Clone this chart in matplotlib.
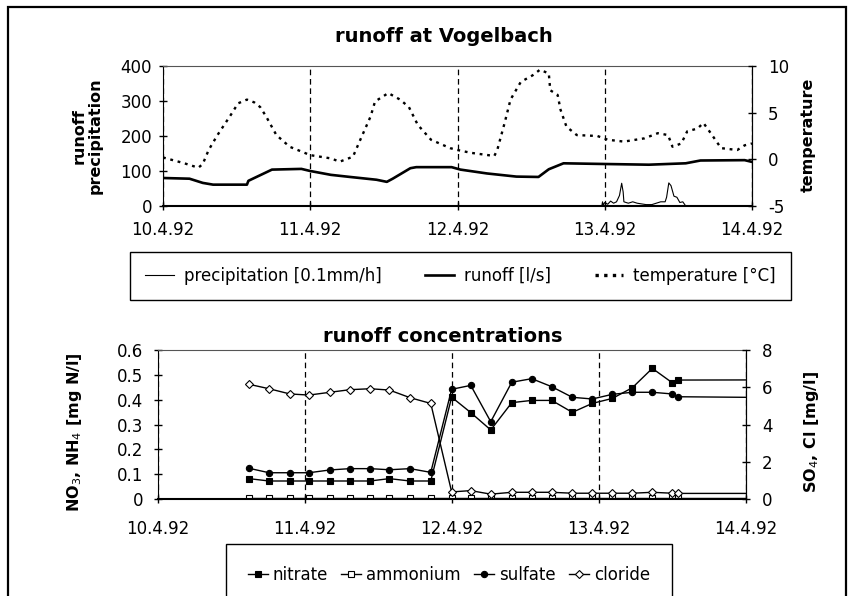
import matplotlib
matplotlib.use("Agg")
import matplotlib.pyplot as plt
from matplotlib.lines import Line2D
from matplotlib.patches import Rectangle
from matplotlib.ticker import FuncFormatter

plt.rcParams["font.family"] = ["DejaVu Sans"]
plt.rcParams["axes.unicode_minus"] = False

# ---- data: x in days after 10.4.92 ----
date_labels = ["10.4.92", "11.4.92", "12.4.92", "13.4.92", "14.4.92"]

runoff_t = [0.0, 0.18, 0.27, 0.34, 0.57, 0.58, 0.66, 0.74, 0.94, 1.0, 1.14, 1.27,
            1.45, 1.52, 1.56, 1.68, 1.72, 1.96, 2.02, 2.2, 2.4, 2.55, 2.62, 2.72,
            3.0, 3.3, 3.55, 3.65, 3.95, 4.0]
runoff = [80, 78, 66, 61, 61, 72, 88, 104, 106, 100, 89, 83,
          75, 69, 78, 108, 111, 111, 104, 93, 84, 83, 105, 122,
          120, 118, 122, 130, 131, 126]

temp_t = [0.0, 0.07, 0.14, 0.24, 0.27, 0.31, 0.37, 0.46, 0.51, 0.57, 0.62, 0.66,
          0.70, 0.77, 0.86, 1.0, 1.14, 1.2, 1.29, 1.34, 1.41, 1.44, 1.53, 1.61,
          1.67, 1.73, 1.82, 1.95, 2.0, 2.09, 2.25, 2.27, 2.32, 2.36, 2.43, 2.51,
          2.56, 2.62, 2.63, 2.68, 2.70, 2.74, 2.81, 2.95, 3.02, 3.13, 3.27, 3.36,
          3.43, 3.46, 3.52, 3.56, 3.63, 3.67, 3.72, 3.79, 3.90, 3.95, 4.0]
temp = [0.2, -0.1, -0.4, -0.9, -0.5, 1.0, 2.6, 4.75, 6.0, 6.4, 6.1, 5.6,
        4.6, 2.6, 1.35, 0.45, 0.1, -0.25, 0.28, 2.1, 4.6, 6.2, 7.1, 6.4,
        5.6, 3.7, 2.1, 1.2, 1.0, 0.7, 0.36, 1.0, 3.9, 6.4, 8.3, 9.0,
        9.6, 9.2, 7.4, 6.9, 5.3, 3.5, 2.6, 2.5, 2.1, 1.9, 2.25, 2.8,
        2.6, 1.35, 1.7, 3.0, 3.3, 3.9, 2.8, 1.2, 1.0, 1.5, 1.7]

precip_t = [2.98, 2.985, 2.99, 3.0, 3.02, 3.04, 3.06, 3.08, 3.10, 3.115, 3.125,
            3.13, 3.16, 3.19, 3.22, 3.25, 3.28, 3.32, 3.35, 3.38, 3.41, 3.42,
            3.435, 3.45, 3.47, 3.49, 3.51, 3.53, 3.55]
precip = [0, 12, 3, 10, 5, 14, 8, 12, 30, 65, 40,
          12, 8, 12, 8, 6, 4, 4, 8, 12, 12, 25,
          66, 58, 28, 25, 10, 12, 0]

# concentration samples (last value lies beyond 14.4.92)
conc_t = [0.622, 0.759, 0.901, 1.031, 1.173, 1.310, 1.446, 1.577, 1.718, 1.859,
          2.001, 2.131, 2.267, 2.410, 2.546, 2.682, 2.822, 2.958, 3.094, 3.230,
          3.366, 3.502, 3.543, 4.6]
nitrate = [0.082, 0.0725, 0.0725, 0.0725, 0.0725, 0.0725, 0.0725, 0.082, 0.0725, 0.0725,
           0.41, 0.348, 0.278, 0.388, 0.397, 0.397, 0.349, 0.385, 0.405, 0.448,
           0.526, 0.468, 0.479, 0.48]
ammonium = [0.003] * 24
sulfate = [1.65, 1.41, 1.41, 1.41, 1.56, 1.63, 1.63, 1.57, 1.63, 1.43,
           5.89, 6.1, 4.15, 6.27, 6.46, 6.03, 5.46, 5.37, 5.62, 5.73,
           5.73, 5.64, 5.49, 5.42]
cloride = [6.16, 5.92, 5.64, 5.58, 5.73, 5.87, 5.92, 5.85, 5.44, 5.13,
           0.38, 0.45, 0.26, 0.36, 0.36, 0.36, 0.31, 0.31, 0.31, 0.31,
           0.36, 0.31, 0.30, 0.30]

W, H = 855, 596


def fx(px):
    return px / W


def fy(py):
    return 1 - py / H


fig = plt.figure(figsize=(W / 100, H / 100), dpi=100)
fig.patch.set_facecolor("white")

# outer chart border (bottom edge is cut off like in the original)
fig.add_artist(Rectangle((fx(8), -0.1), fx(846) - fx(8), fy(7) + 0.1,
                         transform=fig.transFigure, fill=False,
                         edgecolor="black", lw=1.6, clip_on=False))

dash = (0, (4.5, 3))
dots = (0, (1.2, 2.0))
tick_kw = dict(direction="inout", length=6, width=1, labelsize=12, colors="black")


def style_axes(ax, pad_x):
    ax.set_xlim(0, 4)
    ax.set_xticks(range(5))
    ax.set_xticklabels(date_labels)
    ax.tick_params(axis="x", pad=pad_x, **tick_kw)
    ax.grid(axis="x", color="black", linestyle=dash, lw=0.9)
    ax.spines["top"].set_color("#555555")
    ax.spines["bottom"].set_linewidth(1.5)


# ---- top chart ----
ax1 = fig.add_axes([fx(163), fy(206), fx(752) - fx(163), fy(66) - fy(206)])
style_axes(ax1, 8)
ax1.set_ylim(0, 400)
ax1.set_yticks([0, 100, 200, 300, 400])
ax1.tick_params(axis="y", pad=5, **tick_kw)
ax1.plot(precip_t, precip, color="black", lw=0.8)
ax1.plot(runoff_t, runoff, color="black", lw=1.9)

ax2 = ax1.twinx()
ax2.set_ylim(-5, 10)
ax2.set_yticks([-5, 0, 5, 10])
ax2.tick_params(axis="y", pad=8.5, **tick_kw)
ax2.plot(temp_t, temp, color="black", lw=1.7, linestyle=dots)
for s in ["top", "left", "bottom"]:
    ax2.spines[s].set_visible(False)

fig.text(fx(444), fy(36), "runoff at Vogelbach", ha="center", va="center",
         fontsize=14, fontweight="bold")
fig.text(fx(87), fy(136), "runoff\nprecipitation", rotation=90, ha="center",
         va="center", fontsize=11.5, fontweight="bold", linespacing=1.05)
fig.text(fx(808), fy(135), "temperature", rotation=90, ha="center",
         va="center", fontsize=11.5, fontweight="bold")

top_handles = [Line2D([], [], color="black", lw=0.8),
               Line2D([], [], color="black", lw=1.9),
               Line2D([], [], color="black", lw=2.4, linestyle=(0, (1, 1.6)))]
fig.legend(top_handles, ["precipitation [0.1mm/h]", "runoff [l/s]", "temperature [°C]"],
           loc="center", ncol=3, mode="expand",
           bbox_to_anchor=(fx(122), fy(301), fx(799) - fx(122), fy(251) - fy(301)),
           fontsize=12, frameon=True, fancybox=False, edgecolor="black",
           framealpha=1, borderpad=0.9, handlelength=1.7, handletextpad=0.6)

# ---- bottom chart ----
ax3 = fig.add_axes([fx(157.5), fy(499), fx(745.5) - fx(157.5), fy(350) - fy(499)])
style_axes(ax3, 12)
ax3.set_ylim(0, 0.6)
ax3.set_yticks([0, 0.1, 0.2, 0.3, 0.4, 0.5, 0.6])
ax3.yaxis.set_major_formatter(FuncFormatter(lambda v, p: f"{v:g}"))
ax3.tick_params(axis="y", pad=7.5, **tick_kw)

mk = dict(markevery=slice(0, -1), lw=1, color="black", markeredgecolor="black",
          markeredgewidth=0.8)
l_nit, = ax3.plot(conc_t, nitrate, marker="s", ms=4, markerfacecolor="black", **mk)
l_amm, = ax3.plot(conc_t, ammonium, marker="s", ms=4, markerfacecolor="white", **mk)

ax4 = ax3.twinx()
ax4.set_ylim(0, 8)
ax4.set_yticks([0, 2, 4, 6, 8])
ax4.tick_params(axis="y", pad=9, **tick_kw)
for s in ["top", "left", "bottom"]:
    ax4.spines[s].set_visible(False)
l_sul, = ax4.plot(conc_t, sulfate, marker="o", ms=4.5, markerfacecolor="black", **mk)
l_clo, = ax4.plot(conc_t, cloride, marker="D", ms=4, markerfacecolor="white", **mk)

fig.text(fx(443), fy(337), "runoff concentrations", ha="center", va="center",
         fontsize=14, fontweight="bold")
fig.text(fx(74), fy(432), "NO$_3$, NH$_4$ [mg N/l]", rotation=90, ha="center",
         va="center", fontsize=11.5, fontweight="bold")
fig.text(fx(811), fy(432), "SO$_4$, Cl [mg/l]", rotation=90, ha="center",
         va="center", fontsize=11.5, fontweight="bold")

fig.legend([l_nit, l_amm, l_sul, l_clo], ["nitrate", "ammonium", "sulfate", "cloride"],
           loc="center", ncol=4, mode="expand",
           bbox_to_anchor=(fx(218), fy(575), fx(680) - fx(218), 0),
           fontsize=12, frameon=True, fancybox=False, edgecolor="black",
           framealpha=1, borderpad=1.3, handlelength=1.2, handletextpad=0.3)

fig.savefig("out.png", dpi=100)
